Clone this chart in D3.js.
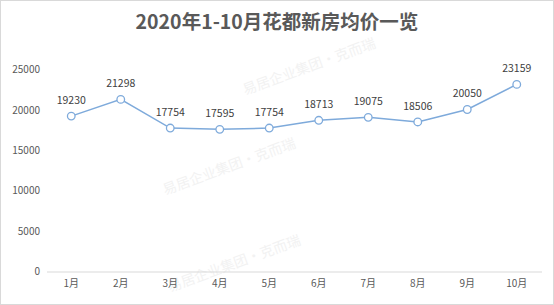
<!DOCTYPE html>
<html><head><meta charset="utf-8">
<script src="https://cdn.jsdelivr.net/npm/d3@7"></script>
<style>html,body{margin:0;padding:0;background:#fff}svg{display:block}</style>
</head><body>
<script>
const title = "2020年1-10月花都新房均价一览";
const months = ["1月","2月","3月","4月","5月","6月","7月","8月","9月","10月"];
const prices = [19230,21298,17754,17595,17754,18713,19075,18506,20050,23159];
const yTicks = [0,5000,10000,15000,20000,25000];

const W=554,H=305;
const svg=d3.select("body").append("svg").attr("width",W).attr("height",H);
svg.append("rect").attr("x",0.5).attr("y",0.5).attr("width",W-1).attr("height",H-1)
  .attr("fill","#fff").attr("stroke","#d9d9d9");

const font="'Microsoft YaHei','Noto Sans CJK SC',sans-serif";

// watermark
const wm=[[165,195],[245,95],[170,292]];
wm.forEach(([x,y])=>{
  svg.append("text").attr("transform",`translate(${x},${y}) rotate(-20)`)
    .attr("font-family",font).attr("font-size",14).attr("fill","#f2f2f2")
    .text("易居企业集团·克而瑞");
});

svg.append("text").attr("x",W/2).attr("y",29).attr("text-anchor","middle")
  .attr("font-family",font).attr("font-size",19.5).attr("font-weight","bold")
  .attr("fill","#595959").text(title);

const x=d3.scaleBand().domain(months).range([46.5,541.5]);
const y=d3.scaleLinear().domain([0,25000]).range([271.5,69.5]);

svg.append("g").attr("transform","translate(0,271.5)")
  .call(d3.axisBottom(x).tickSize(0).tickPadding(8))
  .call(g=>{g.select(".domain").attr("stroke","#d9d9d9");
    g.selectAll("text").attr("font-family",font).attr("font-size",10).attr("fill","#595959");});

svg.append("g").attr("transform","translate(40,0)")
  .call(d3.axisLeft(y).tickValues(yTicks).tickSize(0).tickPadding(0).tickFormat(d3.format("d")))
  .call(g=>{g.select(".domain").remove();
    g.selectAll("text").attr("font-family",font).attr("font-size",10).attr("fill","#595959");});

const cx=d=>x(d)+x.bandwidth()/2;
const line=d3.line().x((d,i)=>cx(months[i])).y(d=>y(d));
svg.append("path").datum(prices).attr("d",line).attr("fill","none")
  .attr("stroke","#7eaadb").attr("stroke-width",1.5);

svg.selectAll("circle.pt").data(prices).join("circle").attr("class","pt")
  .attr("cx",(d,i)=>cx(months[i])).attr("cy",d=>y(d)).attr("r",3.8)
  .attr("fill","#fff").attr("stroke","#7eaadb").attr("stroke-width",1.3);

svg.selectAll("text.lbl").data(prices).join("text").attr("class","lbl")
  .attr("x",(d,i)=>cx(months[i])).attr("y",d=>y(d)-12).attr("text-anchor","middle")
  .attr("font-family",font).attr("font-size",10.5).attr("fill","#404040").text(d=>d);
</script>
</body></html>
